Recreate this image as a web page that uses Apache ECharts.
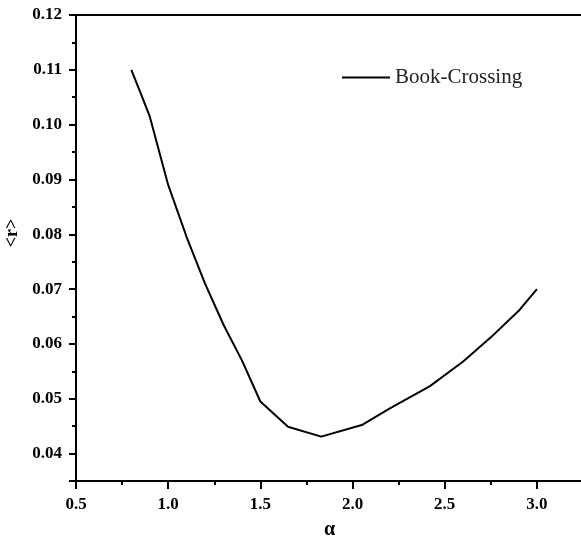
<!DOCTYPE html>
<html>
<head>
<meta charset="utf-8">
<script src="https://cdn.jsdelivr.net/npm/echarts@6/dist/echarts.min.js"></script>
<style>html,body{margin:0;padding:0;background:#fff}#c{width:581px;height:543px}</style>
</head>
<body>
<div id="c"></div>
<script>
const alphaValues = [0.8, 0.85, 0.9, 1.0, 1.1, 1.2, 1.3, 1.4, 1.5, 1.65, 1.83, 2.05, 2.2, 2.42, 2.6, 2.75, 2.9, 3.0];
const rValues = [0.110, 0.1058, 0.1015, 0.089, 0.0795, 0.071, 0.0635, 0.057, 0.0495, 0.0449, 0.0431, 0.0452, 0.0482, 0.0523, 0.0568, 0.0612, 0.0660, 0.0700];
const seriesName = 'Book-Crossing';
const xName = 'α';
const yName = '<r>';

const font = '"Liberation Serif", "Times New Roman", serif';
const chart = echarts.init(document.getElementById('c'), null, {renderer: 'canvas'});
chart.setOption({
  animation: false,
  backgroundColor: '#fff',
  grid: {left: 76, right: -2, top: 15, bottom: 62, show: true, borderColor: '#000', borderWidth: 2,
    backgroundColor: 'transparent', containLabel: false, outerBoundsMode: 'none'},
  legend: {
    left: 337, top: 62, itemWidth: 48, itemHeight: 20, itemGap: 5,
    data: [seriesName],
    textStyle: {fontFamily: font, fontSize: 21, color: '#222'},
    icon: 'path://M0,9 L48,9 L48,11 L0,11 Z'
  },
  xAxis: {
    type: 'value', min: 0.5, max: 3.25, splitNumber: 5,
    name: xName, nameLocation: 'middle', nameGap: 39,
    nameTextStyle: {fontFamily: font, fontSize: 20, fontWeight: 'bold', color: '#000'},
    axisLine: {show: true, lineStyle: {color: '#000', width: 2}},
    axisTick: {show: true, inside: false, length: 8, lineStyle: {color: '#000', width: 2}},
    minorTick: {show: true, splitNumber: 2, length: 4, lineStyle: {color: '#000', width: 2}},
    splitLine: {show: false},
    axisLabel: {fontFamily: font, fontSize: 17, fontWeight: 'bold', color: '#000', margin: 15, showMaxLabel: false,
      formatter: v => v.toFixed(1)}
  },
  yAxis: {
    type: 'value', min: 0.035, max: 0.12, splitNumber: 8,
    name: yName, nameLocation: 'middle', nameGap: 48, nameRotate: 90,
    nameTextStyle: {fontFamily: font, fontSize: 18, fontWeight: 'bold', color: '#000', padding: [0, 0, 0, 30]},
    axisLine: {show: true, lineStyle: {color: '#000', width: 2}},
    axisTick: {show: true, inside: false, length: 7, lineStyle: {color: '#000', width: 2}},
    minorTick: {show: true, splitNumber: 2, length: 4, lineStyle: {color: '#000', width: 2}},
    splitLine: {show: false},
    axisLabel: {fontFamily: font, fontSize: 17, fontWeight: 'bold', color: '#000', margin: 14, showMinLabel: false,
      formatter: v => v.toFixed(2)}
  },
  series: [{
    name: seriesName, type: 'line', symbol: 'none',
    data: alphaValues.map((a, i) => [a, rValues[i]]),
    lineStyle: {color: '#000', width: 2},
    itemStyle: {color: '#000'}
  }]
});
</script>
</body>
</html>
